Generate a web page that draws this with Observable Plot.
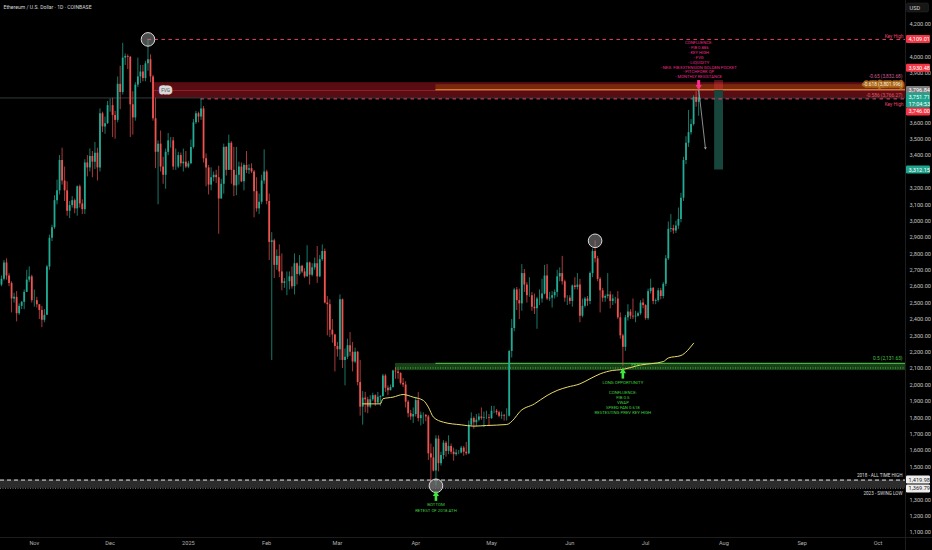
<!DOCTYPE html>
<html>
<head>
<meta charset="utf-8">
<script src="https://cdn.jsdelivr.net/npm/d3@7"></script>
<script src="https://cdn.jsdelivr.net/npm/@observablehq/plot@0.6"></script>
<style>
  html, body { margin: 0; padding: 0; background: #000; overflow: hidden; }
</style>
</head>
<body>
<div id="chart"></div>
<script>
// ETH/USD daily candles (Coinbase), one [high, low, close] per day.
// The open of each day is the previous day's close.
const firstDay = "2024-10-19";
const firstOpen = 2610;

const oct2024 = [[2665,2600,2645],[2760,2635,2745],[2770,2640,2665],[2680,2600,2620],[2630,2440,2525],[2560,2500,2535],[2570,2385,2435],[2495,2425,2480],[2510,2460,2505],[2580,2460,2565],[2700,2565,2640],[2720,2625,2660],[2670,2500,2515]];
const nov2024 = [[2580,2475,2515],[2535,2470,2490],[2490,2400,2455],[2480,2350,2395],[2460,2380,2425],[2730,2425,2720],[2915,2700,2895],[2975,2875,2960],[3155,2950,3125],[3250,3100,3185],
  [3400,3160,3370],[3445,3220,3245],[3330,3120,3185],[3240,3030,3060],[3120,3015,3095],[3150,3080,3125],[3135,3045,3075],[3215,3030,3210],[3220,3080,3105],[3130,3040,3070],
  [3375,3040,3355],[3400,3270,3325],[3440,3300,3395],[3425,3265,3360],[3480,3315,3415],[3445,3245,3325],[3685,3300,3655],[3665,3540,3575],[3635,3530,3595],[3730,3590,3705]];
const dec2024 = [[3745,3665,3705],[3750,3510,3645],[3670,3500,3615],[3880,3600,3835],[3945,3680,3785],[4085,3770,3995],[4020,3950,4005],[4015,3925,4000],[4005,3510,3710],[3790,3525,3630],
  [3845,3610,3830],[3995,3815,3880],[3950,3840,3910],[3950,3850,3870],[3975,3850,3960],[4109.01,3915,3985],[4015,3845,3880],[3890,3610,3625],[3750,3320,3420],[3490,3100,3470],
  [3550,3300,3330],[3390,3225,3280],[3440,3195,3420],[3535,3400,3490],[3510,3445,3490],[3510,3310,3330],[3440,3310,3330],[3420,3320,3400],[3415,3330,3350],[3440,3300,3360],[3425,3320,3330]];
const jan2025 = [[3365,3320,3350],[3495,3345,3450],[3620,3440,3600],[3670,3590,3655],[3665,3600,3635],[3746,3615,3685],[3700,3355,3380],[3410,3210,3325],[3340,3160,3220],[3325,3185,3265],
  [3300,3240,3280],[3310,3230,3265],[3335,2920,3135],[3255,3135,3225],[3470,3165,3450],[3455,3275,3310],[3525,3310,3475],[3485,3225,3310],[3450,3150,3215],[3450,3155,3280],
  [3360,3220,3330],[3355,3235,3240],[3350,3185,3340],[3425,3290,3310],[3345,3285,3320],[3350,3290,3300],[3310,3020,3180],[3265,3055,3075],[3165,3040,3115],[3280,3100,3245],[3435,3225,3300]];
const feb2025 = [[3310,3100,3120],[3165,2760,2870],[2930,2150,2880],[2890,2650,2730],[2825,2700,2785],[2855,2655,2690],[2800,2575,2620],[2650,2590,2630],[2690,2545,2630],[2690,2580,2660],
  [2720,2585,2600],[2800,2550,2740],[2745,2610,2675],[2790,2665,2725],[2730,2680,2690],[2710,2650,2660],[2850,2660,2745],[2750,2610,2670],[2740,2660,2715],[2775,2700,2740],
  [2845,2620,2660],[2790,2655,2765],[2855,2755,2815],[2830,2495,2500],[2540,2300,2490],[2520,2290,2335],[2400,2255,2305],[2310,2080,2235]];
const mar2025 = [[2260,2170,2215],[2550,2150,2520],[2525,2100,2150],[2220,1995,2170],[2280,2155,2240],[2320,2175,2200],[2260,2080,2140],[2225,2130,2200],[2205,1995,2015],[2150,1810,1865],
  [1960,1755,1920],[1955,1830,1910],[1925,1825,1865],[1935,1855,1910],[1950,1900,1935],[1940,1870,1890],[1955,1885,1925],[1935,1870,1930],[2065,1925,2055],[2065,1955,1980],
  [1995,1935,1965],[2000,1965,1985],[2090,1980,2085],[2104,2035,2080],[2095,2035,2070],[2075,2000,2010],[2040,1985,2000],[2020,1860,1895],[1905,1800,1825],[1845,1785,1805],[1860,1765,1820]];
const apr2025 = [[1925,1805,1905],[1955,1775,1795],[1835,1750,1815],[1830,1760,1815],[1820,1775,1805],[1815,1540,1580],[1640,1410,1555],[1620,1470,1475],[1690,1385,1670],[1690,1470,1520],
  [1590,1505,1570],[1660,1545,1645],[1655,1560,1595],[1690,1575,1625],[1640,1575,1590],[1615,1535,1575],[1605,1565,1585],[1600,1575,1585],[1625,1580,1615],[1625,1565,1590],
  [1650,1570,1580],[1780,1575,1755],[1830,1745,1795],[1805,1730,1770],[1820,1745,1785],[1825,1775,1805],[1860,1785,1795],[1835,1740,1800],[1840,1790,1800],[1820,1750,1795]];
const may2025 = [[1870,1790,1840],[1870,1825,1840],[1850,1815,1830],[1840,1800,1810],[1835,1790,1815],[1820,1780,1810],[1855,1780,1810],[2210,1805,2205],[2400,2165,2345],[2590,2325,2580],
  [2595,2455,2515],[2585,2400,2495],[2735,2450,2680],[2705,2565,2610],[2625,2500,2545],[2655,2535,2545],[2565,2450,2475],[2555,2430,2465],[2535,2340,2525],[2580,2485,2525],
  [2645,2500,2555],[2730,2550,2665],[2735,2515,2525],[2565,2510,2530],[2570,2470,2545],[2580,2525,2565],[2700,2535,2660],[2715,2630,2680],[2785,2610,2630],[2640,2505,2530],[2545,2485,2530]];
const jun2025 = [[2545,2490,2510],[2610,2475,2605],[2655,2580,2595],[2680,2580,2610],[2645,2380,2420],[2525,2410,2480],[2535,2470,2525],[2540,2480,2510],[2690,2490,2680],[2830,2655,2815],
  [2880,2745,2770],[2785,2630,2645],[2655,2440,2575],[2590,2505,2530],[2550,2505,2540],[2680,2525,2550],[2570,2465,2510],[2550,2485,2525],[2535,2495,2525],[2570,2400,2410],
  [2440,2280,2300],[2310,2115,2230],[2425,2205,2410],[2490,2390,2445],[2460,2400,2420],[2525,2400,2415],[2450,2380,2420],[2445,2415,2435],[2515,2425,2500],[2525,2465,2485]];
const jul2025 = [[2490,2395,2405],[2585,2395,2570],[2645,2555,2590],[2595,2490,2510],[2525,2490,2515],[2590,2505,2575],[2590,2520,2540],[2625,2525,2615],[2790,2600,2770],[2995,2760,2950],
  [3040,2930,2955],[2975,2920,2940],[3000,2925,2970],[3080,2950,3010],[3170,2990,3140],[3390,3120,3370],[3515,3345,3475],[3675,3450,3540],[3620,3525,3590],[3765,3580,3755],
  [3790,3695,3725],[3801,3640,3751.71]];

// Anchored VWAP (from the March low)
const vwapDates = ["2025-03-11","2025-03-18","2025-03-19","2025-03-23","2025-03-27","2025-03-31","2025-04-04","2025-04-06","2025-04-08","2025-04-12","2025-04-19","2025-04-24","2025-04-29",
  "2025-05-07","2025-05-10","2025-05-12","2025-05-18","2025-05-23","2025-05-27","2025-05-31","2025-06-05","2025-06-09","2025-06-13","2025-06-18","2025-06-21","2025-06-29",
  "2025-07-08","2025-07-10","2025-07-15","2025-07-20"];
const vwapValues = [1885,1885,1916,1926,1942,1926,1906,1865,1804,1773,1757,1749,1753,1759,1794,1834,1885,1936,1967,1987,2007,2038,2068,2089,2093,2122,2143,2165,2180,2255];

// Levels and zones
const keyHighs = [{from: "2024-12-16", price: 4109.01}, {from: "2025-01-06", price: 3746}];
const fvgZone = [{from: "2024-12-18", low: 3750, high: 3845}];
const fibLevels = [
  {label: "-0.65 (3,832.68)", price: 3832.68},
  {label: "-0.618 (3,801.996)", price: 3801.996},
  {label: "-0.586 (3,766.27)", price: 3766.27}
];
const fibFrom = "2025-04-09";
const fibHalf = 2131.63;
const demandZone = [{from: "2025-03-24", low: 2088, high: 2131.63, prevKeyHigh: 2104}];
const athLevels = [{label: "2018 - ALL TIME HIGH", price: 1419.98}, {label: "2023 - SWING LOW", price: 1369.79}];
const pivots = [{date: "2024-12-16", price: 4109.01}, {date: "2025-06-11", price: 2880}, {date: "2025-04-09", price: 1385}];
const shortTrade = {from: "2025-07-28T08:00Z", to: "2025-07-31T20:00Z", stop: 3858, entry: 3796.84, target: 3312.15};
const projection = [{x1: "2025-07-22", y1: 3809, x2: "2025-07-24T17:00Z", y2: 3441}];

const shortNotes = "CONFLUENCE:\n- FIB 0.886\n- KEY HIGH\n- FVG\n- LIQUIDITY\n- NEG. FIB EXTENSION GOLDEN POCKET\n- PITCHFORK QP\n- MONTHLY RESISTANCE";
const longNotes = "LONG OPPORTUNITY\n\nCONFLUENCE:\nFIB 0.5\nVWAP\nSPEED FAN 0.618\nRESTESTING PREV KEY HIGH";
const bottomNotes = "BOTTOM\nRETEST OF 2018 ATH";

// Price-axis ticks (the ones under the price badges are left out)
const yTicks = [4200, 4000, 3900, 3600, 3500, 3400, 3200, 3100, 3000, 2900, 2800, 2700, 2600, 2500, 2400, 2300, 2200, 2100, 2000, 1900, 1800, 1700, 1600, 1500, 1300, 1200, 1100];
const monthTicks = ["2024-11-01","2024-12-01","2025-01-01","2025-02-01","2025-03-01","2025-04-01","2025-05-01","2025-06-01","2025-07-01","2025-08-01","2025-09-01","2025-10-01"].map(d => new Date(d));

const priceBadges = [
  {price: 4109.01, bg: "#f23645", fg: "#fff", shift: 0},
  {price: 3930.48, bg: "#f23645", fg: "#fff", shift: -0.5},
  {price: 3796.84, bg: "#7d7d7d", fg: "#fff", shift: 0},
  {price: 3751.71, bg: "#1fa38c", fg: "#fff", shift: -0.8, extra: "17:04:53"},
  {price: 3746.00, bg: "#f23645", fg: "#fff", shift: 13},
  {price: 3312.15, bg: "#1fa38c", fg: "#fff", shift: 0},
  {price: 1419.98, bg: "#eeeeee", fg: "#1a1a1a", shift: 0},
  {price: 1369.79, bg: "#eeeeee", fg: "#1a1a1a", shift: 0.6}
];

const FONT = "Roboto, 'Liberation Sans', Arial, sans-serif";
const UP = "#22ab94", DOWN = "#ef5350";
const PINK = "#e8436d", MAGENTA = "#ea2a8c", GREEN_TXT = "#3fd23f";

const xStart = new Date("2024-10-18T14:51Z");
const xEnd = new Date("2025-10-11T21:21Z");
const fmt = d3.format(",.2f");

// Build candles
const candles = [];
{
  let prev = firstOpen, i = 0;
  for (const month of [oct2024, nov2024, dec2024, jan2025, feb2025, mar2025, apr2025, may2025, jun2025, jul2025]) {
    for (const [high, low, close] of month) {
      candles.push({date: d3.utcDay.offset(new Date(firstDay), i++), open: prev, high, low, close});
      prev = close;
    }
  }
}
const ups = candles.filter(d => d.close >= d.open);
const downs = candles.filter(d => d.close < d.open);
const vwap = vwapDates.map((d, i) => ({date: new Date(d), value: vwapValues[i]}));
const D = s => new Date(s);
const lastDate = candles[candles.length - 1].date;

// Price-axis badges and panel separators, positioned with the scales
function axisChrome(index, scales, values, dims) {
  const g = d3.create("svg:g").attr("font-family", FONT).attr("font-size", 5.6).attr("text-anchor", "start");
  const left = scales.x(xEnd);
  const bottom = dims.height - dims.marginBottom;
  g.append("line").attr("x1", left + 0.5).attr("x2", left + 0.5).attr("y1", 0).attr("y2", dims.height).attr("stroke", "#1d1d1d");
  g.append("line").attr("x1", 0).attr("x2", dims.width).attr("y1", bottom + 0.5).attr("y2", bottom + 0.5).attr("stroke", "#1d1d1d");
  for (const b of priceBadges) {
    const cy = scales.y(b.price) + b.shift;
    const h = b.extra ? 15 : 8;
    g.append("rect").attr("x", left + 1).attr("y", cy - 4).attr("width", 24).attr("height", h).attr("rx", 1.2).attr("fill", b.bg);
    g.append("text").attr("x", left + 3.5).attr("y", cy).attr("dy", "0.36em").attr("fill", b.fg).text(fmt(b.price));
    if (b.extra) g.append("text").attr("x", left + 3.5).attr("y", cy + 7).attr("dy", "0.36em").attr("fill", b.fg).text(b.extra);
  }
  g.append("rect").attr("x", left + 1.5).attr("y", 3).attr("width", 22).attr("height", 9).attr("rx", 1.5).attr("fill", "#161616").attr("stroke", "#2a2a2a").attr("stroke-width", 0.5);
  g.append("text").attr("x", left + 4.5).attr("y", 7.5).attr("dy", "0.36em").attr("fill", "#d0d0d0").text("USD");
  return g.node();
}

const chart = Plot.plot({
  width: 932,
  height: 550,
  marginLeft: 0,
  marginRight: 27,
  marginTop: 0,
  marginBottom: 13,
  style: {background: "#000", color: "#c3c3c3", fontFamily: FONT},
  x: {type: "utc", domain: [xStart, xEnd]},
  y: {domain: [1100, 4200], range: [532, 24]},
  marks: [
    // bottom: 2018 ATH / 2023 swing-low band
    Plot.rect([athLevels], {x1: xStart, x2: xEnd, y1: d => d[1].price, y2: d => d[0].price, fill: "#2c2c2c"}),
    Plot.ruleY([athLevels[0]], {y: "price", stroke: "#e6e6e6", strokeWidth: 1, strokeDasharray: "4,3"}),
    Plot.ruleY([athLevels[1]], {y: "price", stroke: "#9a9a9a", strokeWidth: 0.8, strokeDasharray: "1,1.5"}),

    // demand zone with fib 0.5 and previous key high
    Plot.rect(demandZone, {x1: d => D(d.from), x2: xEnd, y1: "low", y2: "high", fill: "#1c521a", fillOpacity: 0.8}),
    Plot.ruleY(demandZone, {x1: d => D(d.from), x2: xEnd, y: "prevKeyHigh", stroke: "#6fd06a", strokeWidth: 0.8, strokeDasharray: "1,1.5"}),
    Plot.ruleY([fibHalf], {x1: D(fibFrom), x2: xEnd, y: d => d, stroke: "#48b040", strokeWidth: 1.2}),

    // FVG and negative fib extension zone
    Plot.rect(fvgZone, {x1: d => D(d.from), x2: xEnd, y1: "low", y2: "high", fill: "#5e0d13", fillOpacity: 0.95}),
    Plot.ruleY(fvgZone, {x1: d => D(d.from), x2: xEnd, y: d => (d.low + d.high) / 2, stroke: "#a8323f", strokeWidth: 0.8, strokeOpacity: 0.8}),
    Plot.rect([fibLevels], {x1: D(fibFrom), x2: xEnd, y1: d => d[1].price, y2: d => d[0].price, fill: "#ff9800", fillOpacity: 0.2}),
    Plot.ruleY([fibLevels[1]], {x1: D(fibFrom), x2: xEnd, y: "price", stroke: "#e99a34", strokeWidth: 1}),

    // short position tool
    Plot.rect([shortTrade], {x1: d => D(d.from), x2: d => D(d.to), y1: "target", y2: "entry", fill: "#17463d"}),
    Plot.rect([shortTrade], {x1: d => D(d.from), x2: d => D(d.to), y1: "entry", y2: "stop", fill: "#f23645", fillOpacity: 0.35}),

    // last price line
    Plot.ruleY([3751.71], {stroke: "#3b4a47", strokeWidth: 0.8}),

    // key highs
    Plot.ruleY(keyHighs, {x1: d => D(d.from), x2: xEnd, y: "price", stroke: PINK, strokeWidth: 1, strokeDasharray: "3.5,3.5"}),

    // candles
    Plot.ruleX(ups, {x: "date", y1: "low", y2: "high", stroke: UP, strokeWidth: 0.7}),
    Plot.ruleX(downs, {x: "date", y1: "low", y2: "high", stroke: DOWN, strokeWidth: 0.7}),
    Plot.ruleX(ups, {x: "date", y1: "open", y2: "close", stroke: UP, strokeWidth: 1.8}),
    Plot.ruleX(downs, {x: "date", y1: "open", y2: "close", stroke: DOWN, strokeWidth: 1.8}),

    // anchored VWAP
    Plot.line(vwap, {x: "date", y: "value", stroke: "#e9dc6a", strokeWidth: 1, curve: "monotone-x"}),

    // pivot circles
    Plot.dot(pivots, {x: d => D(d.date), y: "price", r: 6.8, fill: "#8a8a8a", fillOpacity: 0.55, stroke: "#dcdcdc", strokeWidth: 1}),

    // projection arrow
    Plot.arrow(projection, {x1: d => D(d.x1), y1: "y1", x2: d => D(d.x2), y2: "y2", stroke: "#b0b0b0", strokeWidth: 0.8, headLength: 3}),

    // short signal arrow
    Plot.ruleX([lastDate], {x: d => d, y1: 3858, y2: 3826, stroke: "#ff2d8a", strokeWidth: 3}),
    Plot.dot([lastDate], {x: d => d, y: 3820, symbol: "triangle", rotate: 180, r: 2.3, fill: "#ff2d8a"}),

    // long signal arrows
    Plot.ruleX([D("2025-06-22")], {x: d => d, y1: 2036, y2: 2075, stroke: "#3ee63e", strokeWidth: 2.6}),
    Plot.dot([D("2025-06-22")], {x: d => d, y: 2083, symbol: "triangle", r: 2.3, fill: "#3ee63e"}),
    Plot.ruleX([D("2025-04-09")], {x: d => d, y1: 1290, y2: 1325, stroke: "#3ee63e", strokeWidth: 2.6}),
    Plot.dot([D("2025-04-09")], {x: d => d, y: 1333, symbol: "triangle", r: 2.3, fill: "#3ee63e"}),

    // notes
    Plot.text([shortNotes], {x: lastDate, y: 3872, text: d => d, lineAnchor: "bottom", fontSize: 4.2, lineHeight: 1.16, fill: MAGENTA}),
    Plot.text([longNotes], {x: D("2025-06-22"), y: 2031, text: d => d, lineAnchor: "top", fontSize: 4.3, lineHeight: 1.17, fill: GREEN_TXT}),
    Plot.text([bottomNotes], {x: D("2025-04-09"), y: 1285, text: d => d, lineAnchor: "top", fontSize: 4.3, lineHeight: 1.35, fill: GREEN_TXT}),
    Plot.text(["PKH"], {x: D("2025-06-27"), y: 2124, text: d => d, fontSize: 4.3, fill: GREEN_TXT}),

    // level labels on the right edge
    Plot.text([keyHighs[0]], {y: "price", text: () => "Key High", frameAnchor: "right", textAnchor: "end", dx: -2, dy: -1.5, lineAnchor: "bottom", fontSize: 4.8, fill: PINK}),
    Plot.text([keyHighs[1]], {y: "price", text: () => "Key High", frameAnchor: "right", textAnchor: "end", dx: -2, dy: 4, lineAnchor: "top", fontSize: 4.8, fill: PINK}),
    Plot.text([athLevels[0]], {y: "price", text: "label", frameAnchor: "right", textAnchor: "end", dx: -3, dy: -4.2, fontSize: 4.6, fill: "#dcdcdc"}),
    Plot.text([athLevels[1]], {y: "price", text: "label", frameAnchor: "right", textAnchor: "end", dx: -3, dy: 5, fontSize: 4.6, fill: "#dcdcdc"}),
    Plot.text([fibHalf], {y: d => d, text: d => `0.5 (${fmt(d)})`, frameAnchor: "right", textAnchor: "end", dx: -3, dy: -4.5, fontSize: 4.8, fill: "#4cc346"}),
    Plot.text([fibLevels[0]], {y: "price", text: "label", frameAnchor: "right", textAnchor: "end", dx: -3, dy: -8.5, fontSize: 4.8, fill: "#d45d95"}),
    Plot.text([fibLevels[1]], {y: "price", text: "label", frameAnchor: "right", textAnchor: "end", dx: -3, dy: -4.8, fontSize: 4.8, fill: "#fff3d6", stroke: "#a9651c", strokeWidth: 3.6, strokeLinejoin: "round", paintOrder: "stroke"}),
    Plot.text([fibLevels[2]], {y: "price", text: "label", frameAnchor: "right", textAnchor: "end", dx: -3, dy: 0, fontSize: 4.8, fill: "#e0566a"}),

    // FVG tag
    Plot.text(["FVG"], {x: D("2024-12-23"), y: 3797, text: d => d, fontSize: 4.8, fill: "#555", stroke: "#d9d9d9", strokeWidth: 5, strokeLinejoin: "round", paintOrder: "stroke"}),

    // axes
    Plot.axisY({anchor: "right", ticks: yTicks, tickFormat: fmt, tickSize: 0, tickPadding: 4, fontSize: 5.6, color: "#c3c3c3", label: null}),
    Plot.axisX({ticks: monthTicks, tickFormat: d => d.getUTCMonth() === 0 ? "2025" : d3.utcFormat("%b")(d), tickSize: 0, tickPadding: 4, fontSize: 5.6, color: "#b0b0b0", label: null}),

    // title
    Plot.text(["Ethereum / U.S. Dollar · 1D · COINBASE"], {frameAnchor: "top-left", text: d => d, textAnchor: "start", lineAnchor: "middle", dx: 3, dy: 7, fontSize: 5.1, fill: "#d8d8d8"}),

    axisChrome
  ]
});

document.getElementById("chart").append(chart);
</script>
</body>
</html>
